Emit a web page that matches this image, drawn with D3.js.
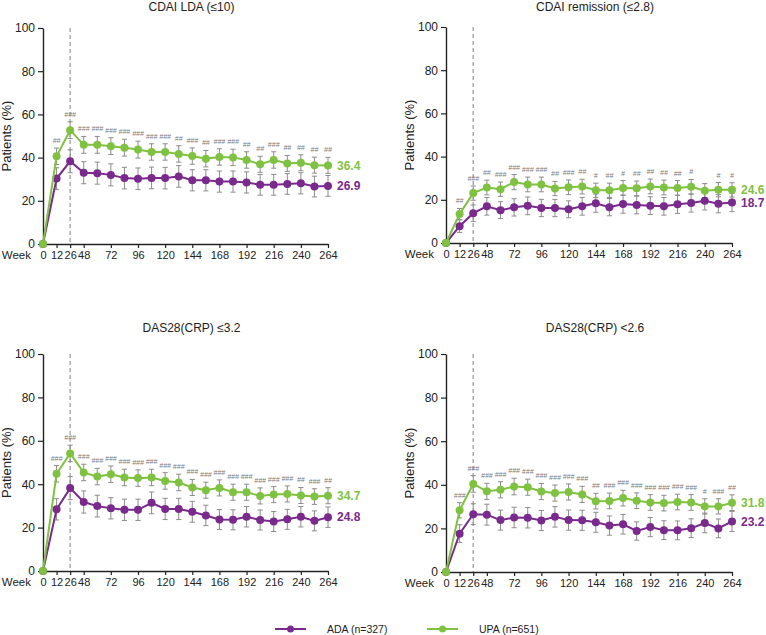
<!DOCTYPE html>
<html><head><meta charset="utf-8">
<script src="https://cdn.jsdelivr.net/npm/d3@7"></script>
<style>
body{margin:0;background:#fff;}
svg{display:block;font-family:"Liberation Sans",Arial,sans-serif;}
</style></head>
<body>
<svg id="chart" width="766" height="635"></svg>
<script>
// ---------- DATA ----------
const weeks = [0,12,26,48,60,72,84,96,108,120,132,144,156,168,180,192,204,216,228,240,252,264];
const tickWeeks = [0,12,26,48,72,96,120,144,168,192,216,240,264];
const yTicks = [0,20,40,60,80,100];
const titles = ["CDAI LDA (\u226410)", "CDAI remission (\u22642.8)", "DAS28(CRP) \u22643.2", "DAS28(CRP) <2.6"];
const seriesNames = ["ADA (n=327)", "UPA (n=651)"];

const upa1 = [0,40.6,52.7,45.9,45.9,45.3,44.6,43.7,42.6,42.6,41.7,40.7,39.5,40.3,40.1,38.9,36.9,38.9,37.3,37.6,36.5,36.4];
const ada1 = [0,30.3,38.3,33.0,32.8,32.0,30.5,30.2,30.6,30.5,31.3,29.5,29.5,28.9,28.9,28.5,27.4,27.4,27.8,28.1,26.6,26.9];
const upa2 = [0,13.4,23.1,25.7,24.9,28.2,27.1,27.1,25.2,25.8,26.1,24.4,24.4,25.5,25.3,26.2,25.7,25.5,26.0,24.2,24.7,24.6];
const ada2 = [0,7.8,13.8,17.0,15.2,16.5,17.2,16.2,16.2,15.6,17.0,18.4,16.6,18.0,17.6,17.3,17.0,17.9,18.5,19.6,18.2,18.7];
const upa3 = [0,44.8,54.2,45.4,43.5,44.6,43.1,42.8,43.1,41.5,40.8,38.5,37.2,38.3,36.3,36.3,34.6,35.2,35.5,34.8,34.3,34.7];
const ada3 = [0,28.4,38.2,31.8,29.9,28.9,28.2,28.2,31.4,28.6,28.6,27.3,25.6,23.7,23.6,25.0,23.5,22.8,23.8,25.0,23.1,24.8];
const upa4 = [0,28.3,40.4,37.0,37.7,39.2,38.9,36.9,36.2,36.7,35.6,32.5,32.6,33.9,32.7,31.9,31.6,32.1,31.9,30.1,30.1,31.8];
const ada4 = [0,17.6,26.5,26.3,23.8,25.0,24.9,23.6,25.3,23.8,23.7,22.8,21.3,21.9,18.8,20.6,19.2,19.1,20.1,22.5,20.0,23.2];

// 95% CI half-widths
const upaErr1 = [0,3.8,3.9,3.9,3.9,3.9,3.9,3.9,3.8,3.8,3.8,3.8,3.8,3.8,3.8,3.8,3.7,3.8,3.7,3.7,3.7,3.7];
const adaErr1 = [0,5.0,5.3,5.1,5.1,5.1,5.0,5.0,5.0,5.0,5.0,4.9,4.9,4.9,4.9,4.9,4.8,4.8,4.8,4.9,4.8,4.8];
const upaErr2 = [0,2.6,3.3,3.4,3.3,3.5,3.4,3.4,3.3,3.4,3.4,3.3,3.3,3.4,3.4,3.4,3.4,3.4,3.4,3.3,3.3,3.3];
const adaErr2 = [0,2.9,3.8,4.1,3.9,4.0,4.1,4.0,4.0,3.9,4.1,4.2,4.0,4.2,4.1,4.1,4.1,4.2,4.2,4.3,4.2,4.2];
const upaErr3 = [0,3.8,3.8,3.8,3.8,3.8,3.8,3.8,3.8,3.8,3.8,3.7,3.7,3.7,3.7,3.7,3.7,3.7,3.7,3.7,3.6,3.7];
const adaErr3 = [0,4.9,5.3,5.1,5.0,4.9,4.9,4.9,5.0,4.9,4.9,4.8,4.7,4.6,4.6,4.7,4.6,4.6,4.6,4.7,4.6,4.7];
const upaErr4 = [0,3.5,3.8,3.7,3.7,3.8,3.7,3.7,3.7,3.7,3.7,3.6,3.6,3.6,3.6,3.6,3.6,3.6,3.6,3.5,3.5,3.6];
const adaErr4 = [0,4.1,4.8,4.8,4.6,4.7,4.7,4.6,4.7,4.6,4.6,4.6,4.4,4.5,4.2,4.4,4.3,4.3,4.3,4.5,4.3,4.6];

// significance markers above UPA
const sig1 = ["","##","###","###","###","###","###","###","###","###","##","###","##","###","###","##","##","###","##","##","##","##"];
const sig2 = ["","##","###","##","###","###","###","###","##","###","##","#","##","#","##","##","##","##","#","","#","#"];
const sig3 = ["","###","###","###","###","###","###","###","###","###","###","###","###","###","###","###","###","###","###","##","###","##"];
const sig4 = ["","###","###","###","###","###","###","###","###","###","###","##","###","###","###","###","###","###","###","#","###","##"];

// ---------- LAYOUT ----------
const PURPLE = "#7a2a8d", GREEN = "#7fc241", GREY = "#8c8c8c";
const panels = [
  {title:titles[0], upa:upa1, ada:ada1, ue:upaErr1, ae:adaErr1, sig:sig1, x0:43,  x1:328, yT:28,  yB:244, tY:11},
  {title:titles[1], upa:upa2, ada:ada2, ue:upaErr2, ae:adaErr2, sig:sig2, x0:446, x1:732, yT:27,  yB:243, tY:11},
  {title:titles[2], upa:upa3, ada:ada3, ue:upaErr3, ae:adaErr3, sig:sig3, x0:43,  x1:328, yT:354, yB:571, tY:332},
  {title:titles[3], upa:upa4, ada:ada4, ue:upaErr4, ae:adaErr4, sig:sig4, x0:446, x1:732, yT:354, yB:572, tY:332}
];

const svg = d3.select("#chart");

panels.forEach(p => {
  const g = svg.append("g");
  const x = d3.scalePoint().domain(weeks).range([p.x0, p.x1]);
  const y = d3.scaleLinear().domain([0,100]).range([p.yB, p.yT]);

  // title
  g.append("text").attr("x", (p.x0+p.x1)/2 + 6).attr("y", p.tY)
    .attr("text-anchor","middle").attr("font-size",12).attr("fill","#222").text(p.title);

  // dashed week 26 line
  g.append("line").attr("x1", x(26)).attr("x2", x(26)).attr("y1", y(100)).attr("y2", y(0))
    .attr("stroke","#a6a6a6").attr("stroke-width",1.4).attr("stroke-dasharray","4,3");

  // axes
  const ya = g.append("g").attr("transform",`translate(${p.x0},0)`)
    .call(d3.axisLeft(y).tickValues(yTicks).tickSize(5).tickPadding(3).tickSizeOuter(0));
  const xa = g.append("g").attr("transform",`translate(0,${p.yB})`)
    .call(d3.axisBottom(x).tickValues(tickWeeks).tickSize(4).tickPadding(3).tickSizeOuter(0));
  [ya, xa].forEach(a => {
    a.select(".domain").attr("stroke","#222").attr("stroke-width",1.4);
    a.selectAll(".tick line").attr("stroke","#222").attr("stroke-width",1.2);
    a.selectAll("text").attr("fill","#222").attr("font-family","Liberation Sans, Arial, sans-serif");
  });
  ya.selectAll("text").attr("font-size",12);
  xa.selectAll("text").attr("font-size",11);

  g.append("text").attr("x", p.x0 - 12).attr("y", p.yB + 7).attr("dy","0.71em")
    .attr("text-anchor","end").attr("font-size",11.5).attr("fill","#222").text("Week");

  g.append("text").attr("transform",`translate(${p.x0-37},${(p.yT+p.yB)/2}) rotate(-90)`)
    .attr("text-anchor","middle").attr("dy","0.35em").attr("font-size",13).attr("fill","#222")
    .text("Patients (%)");

  const series = [
    {vals:p.ada, err:p.ae, color:PURPLE},
    {vals:p.upa, err:p.ue, color:GREEN}
  ];

  // error bars
  series.forEach(s => {
    const eg = g.append("g").attr("stroke",GREY).attr("stroke-width",1);
    weeks.forEach((w,i) => {
      if (!s.err[i]) return;
      const cx = x(w), lo = y(s.vals[i]-s.err[i]), hi = y(s.vals[i]+s.err[i]);
      eg.append("line").attr("x1",cx).attr("x2",cx).attr("y1",lo).attr("y2",hi);
      eg.append("line").attr("x1",cx-2.6).attr("x2",cx+2.6).attr("y1",lo).attr("y2",lo);
      eg.append("line").attr("x1",cx-2.6).attr("x2",cx+2.6).attr("y1",hi).attr("y2",hi);
    });
  });

  // lines and points
  const line = d3.line().x((d,i)=>x(weeks[i])).y(d=>y(d));
  series.forEach(s => {
    g.append("path").datum(s.vals).attr("d",line).attr("fill","none")
      .attr("stroke",s.color).attr("stroke-width",2);
    g.selectAll(null).data(s.vals).enter().append("circle")
      .attr("cx",(d,i)=>x(weeks[i])).attr("cy",d=>y(d)).attr("r",4).attr("fill",s.color);
    g.append("text").attr("x", p.x1 + 9).attr("y", y(s.vals[s.vals.length-1])).attr("dy","0.35em")
      .attr("font-size",12).attr("font-weight","bold").attr("fill",s.color)
      .text(s.vals[s.vals.length-1].toFixed(1));
  });

  // significance markers
  g.selectAll(null).data(p.sig).enter().append("text")
    .attr("x",(d,i)=>x(weeks[i])).attr("y",(d,i)=>y(p.upa[i]+p.ue[i]) - 5)
    .attr("text-anchor","middle").attr("font-size",7).attr("font-style","italic")
    .attr("fill","#7a7a7a").text(d=>d);
});

// legend
const legend = [
  {name:seriesNames[0], color:PURPLE, x:275},
  {name:seriesNames[1], color:GREEN, x:427}
];
legend.forEach(l => {
  const lg = svg.append("g");
  lg.append("line").attr("x1",l.x).attr("x2",l.x+31).attr("y1",629).attr("y2",629)
    .attr("stroke",l.color).attr("stroke-width",2);
  lg.append("circle").attr("cx",l.x+15.5).attr("cy",629).attr("r",3.5).attr("fill",l.color);
  lg.append("text").attr("x",l.x+52).attr("y",629).attr("dy","0.35em")
    .attr("font-size",10.5).attr("fill","#222").text(l.name);
});
</script>
</body></html>
